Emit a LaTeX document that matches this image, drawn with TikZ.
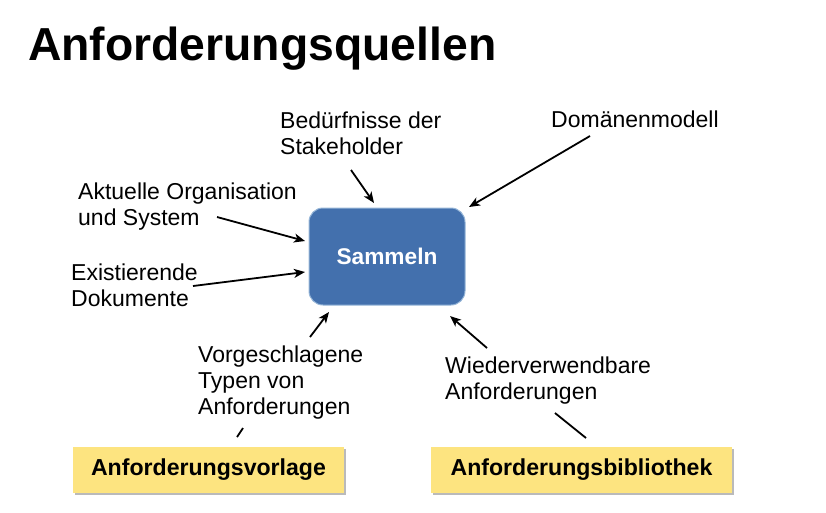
\documentclass[tikz,border=0pt]{standalone}
\usepackage{fontspec}
\setmainfont{Liberation Sans}
\usetikzlibrary{arrows.meta,shadows}
\definecolor{boxblue}{RGB}{67,112,173}
\definecolor{boxedge}{RGB}{150,182,216}
\definecolor{boxyellow}{RGB}{253,228,128}
\newcommand\mylines[1]{\begin{tabular}[t]{@{}l@{}}#1\end{tabular}}
\tikzset{
  lbl/.style={anchor=base west, inner sep=0pt, font=\fontsize{23}{26}\selectfont},
  arr/.style={line width=1.8pt, -{Stealth[length=11pt,width=9pt,inset=3pt]}},
  plain/.style={line width=1.8pt},
  yellowbox/.style={fill=boxyellow, inner sep=0pt, drop shadow={shadow xshift=2pt, shadow yshift=-2pt, fill=black!45, opacity=0.6}, font=\fontsize{23.1}{26}\selectfont\bfseries}
}
\begin{document}
\begin{tikzpicture}[x=1pt,y=-1pt]
\useasboundingbox (0,0) rectangle (826,512);
% title
\node[anchor=base west, inner sep=0pt, font=\fontsize{46.3}{50}\selectfont\bfseries] (title) at (28,60) {Anforderungsquellen};
% central box
\node[fill=boxblue, draw=boxedge, line width=1pt, rounded corners=14pt, minimum width=156pt, minimum height=97pt, text=white, font=\fontsize{22.7}{26}\selectfont\bfseries] (sammeln) at (387,256.5) {Sammeln};
% bottom boxes
\node[yellowbox, minimum width=271pt, minimum height=46pt] (vorlage) at (208.5,470) {Anforderungsvorlage};
\node[yellowbox, minimum width=301pt, minimum height=46pt] (biblio) at (581.5,470) {Anforderungsbibliothek};
% labels
\node[lbl] (bed) at (280,128) {\mylines{Bedürfnisse der\\Stakeholder}};
\node[lbl] (dom) at (551,127) {Domänenmodell};
\node[lbl] (akt) at (78,199) {\mylines{Aktuelle Organisation\\und System}};
\node[lbl] (exi) at (71,280) {\mylines{Existierende\\Dokumente}};
\node[lbl] (vor) at (198,362) {\mylines{Vorgeschlagene\\Typen von\\Anforderungen}};
\node[lbl] (wie) at (445,373) {\mylines{Wiederverwendbare\\Anforderungen}};
% arrow coordinates
\coordinate (bedS) at (351,170); \coordinate (bedE) at (374,203);
\coordinate (domS) at (590,136); \coordinate (domE) at (469,207);
\coordinate (aktS) at (217,217); \coordinate (aktE) at (305,241);
\coordinate (exiS) at (193,286); \coordinate (exiE) at (305,272);
\coordinate (vorS) at (310,337); \coordinate (vorE) at (329,312);
\coordinate (wieS) at (487,348); \coordinate (wieE) at (450,316);
\coordinate (vlA) at (237,437); \coordinate (vlB) at (243,428);
\coordinate (blA) at (555,413); \coordinate (blB) at (586,438);
\draw[arr] (bedS) -- (bedE);
\draw[arr] (domS) -- (domE);
\draw[arr] (aktS) -- (aktE);
\draw[arr] (exiS) -- (exiE);
\draw[arr] (vorS) -- (vorE);
\draw[arr] (wieS) -- (wieE);
\draw[plain] (vlA) -- (vlB);
\draw[plain] (blA) -- (blB);
\end{tikzpicture}
\end{document}
